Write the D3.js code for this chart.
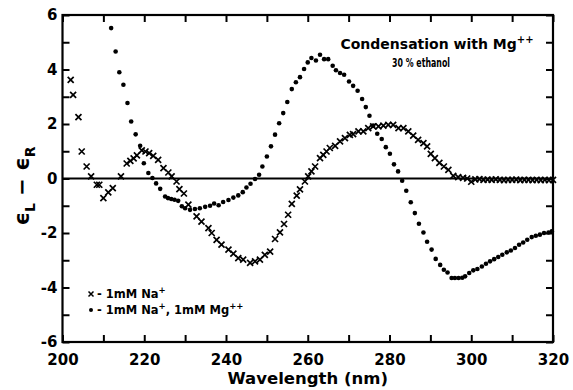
<!DOCTYPE html>
<html>
<head>
<meta charset="UTF-8">
<script src="https://d3js.org/d3.v7.min.js"></script>
<style>
  body { margin: 0; background: #fff; }
  svg { display: block; font-family: "DejaVu Sans", sans-serif; font-weight: bold; }
</style>
</head>
<body>
<div id="chart"></div>
<script>
// 1mM Na+ (crosses)
const naWavelength = [202.0, 202.6, 203.9, 204.7, 205.9, 207.0, 208.4, 209.0, 210.0, 211.2, 212.3, 214.3,
  215.7, 216.6, 217.4, 218.2, 219.4, 220.3, 221.2, 222.2, 223.4, 224.7, 225.9, 226.7, 227.9, 228.6, 229.7,
  230.8, 232.8, 234.0, 235.7, 236.5, 237.7, 238.9, 240.6, 241.8, 243.0, 244.2, 245.9, 247.1, 248.3, 249.5,
  250.8, 252.0, 253.2, 254.2, 255.2, 256.1, 257.3, 258.1, 259.3, 260.1, 260.9, 261.8, 263.0, 263.8, 264.6,
  265.4, 266.7, 267.9, 269.1, 270.3, 271.1, 272.4, 273.6, 274.8, 276.0, 277.3, 278.5, 279.7, 280.9, 282.2,
  283.4, 284.6, 285.8, 287.0, 288.3, 289.2, 290.1, 291.1, 292.2, 293.3, 294.4, 295.6, 296.8, 298.0, 299.0,
  300.0, 301.0, 302.0, 303.0, 304.0, 305.0, 306.0, 307.0, 308.0, 309.0, 310.0, 311.0, 312.0, 313.0, 314.0,
  315.0, 316.0, 317.0, 318.0, 319.0, 320.0];
const naValues = [3.62, 3.07, 2.25, 0.99, 0.44, 0.08, -0.23, -0.23, -0.72, -0.51, -0.35, 0.08,
  0.55, 0.65, 0.74, 0.85, 1.03, 0.99, 0.93, 0.83, 0.68, 0.38, 0.22, 0.08, -0.11, -0.39, -0.55,
  -0.96, -1.39, -1.58, -1.82, -2.0, -2.25, -2.43, -2.61, -2.76, -2.92, -2.98, -3.1, -3.04, -2.98, -2.8,
  -2.68, -2.22, -1.98, -1.67, -1.33, -0.93, -0.63, -0.4, -0.11, 0.08, 0.26, 0.44, 0.75, 0.87, 0.99,
  1.12, 1.2, 1.36, 1.48, 1.6, 1.63, 1.73, 1.73, 1.85, 1.91, 1.91, 1.94, 1.97, 1.97, 1.85,
  1.85, 1.73, 1.57, 1.42, 1.3, 1.18, 0.9, 0.75, 0.57, 0.44, 0.32, 0.1, 0.05, 0.02, 0.0,
  -0.12, -0.03, -0.02, -0.05, -0.04, -0.05, -0.03, -0.05, -0.06, -0.05, -0.05, -0.04, -0.06, -0.05, -0.05,
  -0.06, -0.05, -0.06, -0.05, -0.06, -0.05];

// 1mM Na+, 1mM Mg++ (dots)
const mgWavelength = [211.9, 213.0, 213.9, 214.9, 215.9, 216.8, 217.9, 219.0, 219.9, 221.0, 222.0, 222.9,
  223.9, 225.1, 225.8, 226.6, 227.4, 228.3, 229.2, 230.0, 231.2, 232.4, 233.6, 234.9, 236.1, 237.1, 238.2,
  239.3, 240.6, 241.8, 243.0, 244.1, 245.0, 246.0, 247.1, 248.1, 248.9, 250.0, 251.0, 252.0, 253.0, 254.0,
  255.0, 256.1, 257.1, 258.1, 259.1, 260.0, 260.9, 262.0, 263.0, 264.0, 265.0, 266.1, 266.9, 267.9, 268.9,
  270.1, 271.1, 272.2, 273.3, 274.2, 275.1, 276.0, 277.0, 278.1, 279.1, 280.1, 281.1, 282.1, 283.1, 284.1,
  285.2, 286.2, 287.2, 288.3, 289.2, 290.3, 291.3, 292.4, 293.3, 294.2, 295.2, 296.0, 296.9, 297.8, 298.5,
  299.5, 300.5, 301.5, 302.6, 303.6, 304.6, 305.6, 306.6, 307.6, 308.7, 309.7, 310.7, 311.7, 312.7, 313.7,
  314.8, 315.8, 316.8, 317.8, 318.9, 319.7];
const mgValues = [5.52, 4.66, 3.9, 3.44, 2.77, 2.09, 1.62, 1.2, 0.56, 0.2, 0.02, -0.18,
  -0.38, -0.66, -0.72, -0.75, -0.78, -0.82, -1.02, -1.09, -1.15, -1.12, -1.09, -1.04, -1.0, -0.92, -0.98,
  -0.86, -0.79, -0.7, -0.62, -0.5, -0.33, -0.19, -0.02, 0.14, 0.44, 0.81, 1.18, 1.61, 2.03, 2.4,
  2.81, 3.28, 3.53, 3.72, 4.02, 4.26, 4.42, 4.33, 4.54, 4.38, 4.38, 4.14, 3.97, 3.87, 3.81,
  3.56, 3.4, 3.22, 2.92, 2.62, 2.3, 1.94, 1.64, 1.45, 1.15, 0.91, 0.52, 0.26, -0.08, -0.45,
  -0.87, -1.27, -1.66, -1.98, -2.32, -2.61, -2.95, -3.17, -3.35, -3.45, -3.65, -3.65, -3.65, -3.64, -3.59,
  -3.47, -3.37, -3.32, -3.23, -3.13, -3.04, -2.96, -2.88, -2.8, -2.71, -2.64, -2.55, -2.43, -2.35, -2.25,
  -2.15, -2.1, -2.06, -2.0, -1.98, -1.94];

const xTicks = [200, 210, 220, 230, 240, 250, 260, 270, 280, 290, 300, 310, 320];
const xTickLabels = [200, 220, 240, 260, 280, 300, 320];
const yTicks = [-6, -5, -4, -3, -2, -1, 0, 1, 2, 3, 4, 5, 6];
const yTickLabels = [-6, -4, -2, 0, 2, 4, 6];

const W = 573, H = 390;
const margin = { top: 15, right: 20, bottom: 48, left: 62.5 };

const svg = d3.select('#chart').append('svg')
  .attr('width', W).attr('height', H);

const x = d3.scaleLinear().domain([200, 320]).range([margin.left, W - margin.right]);
const y = d3.scaleLinear().domain([-6, 6]).range([H - margin.bottom, margin.top]);

const fmt = d => d < 0 ? '-' + Math.abs(d) : String(d);
const tickLen = 7;

// axes: ticks inward on all four sides
const axB = svg.append('g').attr('transform', `translate(0,${y(-6)})`)
  .call(d3.axisBottom(x).tickValues(xTicks).tickSizeInner(-tickLen).tickSizeOuter(0)
    .tickFormat(d => xTickLabels.includes(d) ? d : '').tickPadding(12));
const axT = svg.append('g').attr('transform', `translate(0,${y(6)})`)
  .call(d3.axisTop(x).tickValues(xTicks).tickSizeInner(-tickLen).tickSizeOuter(0).tickFormat(''));
const axL = svg.append('g').attr('transform', `translate(${x(200)},0)`)
  .call(d3.axisLeft(y).tickValues(yTicks).tickSizeInner(-tickLen).tickSizeOuter(0)
    .tickFormat(d => yTickLabels.includes(d) ? fmt(d) : '').tickPadding(5));
const axR = svg.append('g').attr('transform', `translate(${x(320)},0)`)
  .call(d3.axisRight(y).tickValues(yTicks).tickSizeInner(-tickLen).tickSizeOuter(0).tickFormat(''));

[axB, axT, axL, axR].forEach(g => {
  g.select('.domain').remove();
  g.selectAll('line').attr('stroke', '#000').attr('stroke-width', 2);
  g.selectAll('text').attr('fill', '#000').style('font-size', '15px')
    .style('font-family', '"DejaVu Sans", sans-serif').style('font-weight', 'bold');
});

// frame
svg.append('rect')
  .attr('x', x(200)).attr('y', y(6))
  .attr('width', x(320) - x(200)).attr('height', y(-6) - y(6))
  .attr('fill', 'none').attr('stroke', '#000').attr('stroke-width', 2.2);

// zero line
svg.append('line')
  .attr('x1', x(200)).attr('x2', x(320)).attr('y1', y(0)).attr('y2', y(0))
  .attr('stroke', '#000').attr('stroke-width', 2);

// crosses
const naData = naWavelength.map((w, i) => ({ w, v: naValues[i] }));
svg.append('g').selectAll('path')
  .data(naData).enter().append('path')
  .attr('transform', d => `translate(${x(d.w)},${y(d.v)})`)
  .attr('d', 'M-3,-3L3,3M-3,3L3,-3')
  .attr('stroke', '#000').attr('stroke-width', 1.7).attr('fill', 'none');

// dots
const mgData = mgWavelength.map((w, i) => ({ w, v: mgValues[i] }));
svg.append('g').selectAll('circle')
  .data(mgData).enter().append('circle')
  .attr('cx', d => x(d.w)).attr('cy', d => y(d.v))
  .attr('r', 2.3).attr('fill', '#000');

// x label
svg.append('text')
  .attr('x', (x(200) + x(320)) / 2).attr('y', 384)
  .attr('text-anchor', 'middle').style('font-size', '16.5px')
  .text('Wavelength (nm)');

// y label
const yl = svg.append('text')
  .attr('transform', 'translate(29,186) rotate(-90)')
  .attr('text-anchor', 'middle').style('font-size', '21px');
yl.append('tspan').text('ϵ');
yl.append('tspan').attr('dy', 6).style('font-size', '14px').text('L');
yl.append('tspan').attr('dy', -6).text(' − ϵ');
yl.append('tspan').attr('dy', 6).style('font-size', '14px').text('R');

// annotation
const t1 = svg.append('text').attr('x', 437).attr('y', 49)
  .attr('text-anchor', 'middle').style('font-size', '14px');
t1.append('tspan').text('Condensation with Mg');
t1.append('tspan').attr('dy', -6).style('font-size', '10px').text('++');
svg.append('text').attr('x', 392).attr('y', 67)
  .attr('textLength', 58).attr('lengthAdjust', 'spacingAndGlyphs')
  .style('font-size', '12.5px')
  .text('30 % ethanol');

// legend
const legend = [
  { sym: 'x', label: '1mM Na', sup: '+', rest: '' },
  { sym: 'o', label: '1mM Na', sup: '+', rest: ', 1mM Mg', sup2: '++' }
];
legend.forEach((l, i) => {
  const ly = 298 + i * 16;
  if (l.sym === 'x') {
    svg.append('path').attr('transform', `translate(91,${ly - 4})`)
      .attr('d', 'M-2.5,-2.5L2.5,2.5M-2.5,2.5L2.5,-2.5')
      .attr('stroke', '#000').attr('stroke-width', 1.5);
  } else {
    svg.append('circle').attr('cx', 91).attr('cy', ly - 4).attr('r', 2).attr('fill', '#000');
  }
  const t = svg.append('text').attr('x', 97).attr('y', ly).style('font-size', '11.5px');
  t.append('tspan').text('- ' + l.label);
  t.append('tspan').attr('dy', -5).style('font-size', '8.5px').text(l.sup);
  if (l.rest) {
    t.append('tspan').attr('dy', 5).text(l.rest);
    t.append('tspan').attr('dy', -5).style('font-size', '8.5px').text(l.sup2);
  }
});
</script>
</body>
</html>
